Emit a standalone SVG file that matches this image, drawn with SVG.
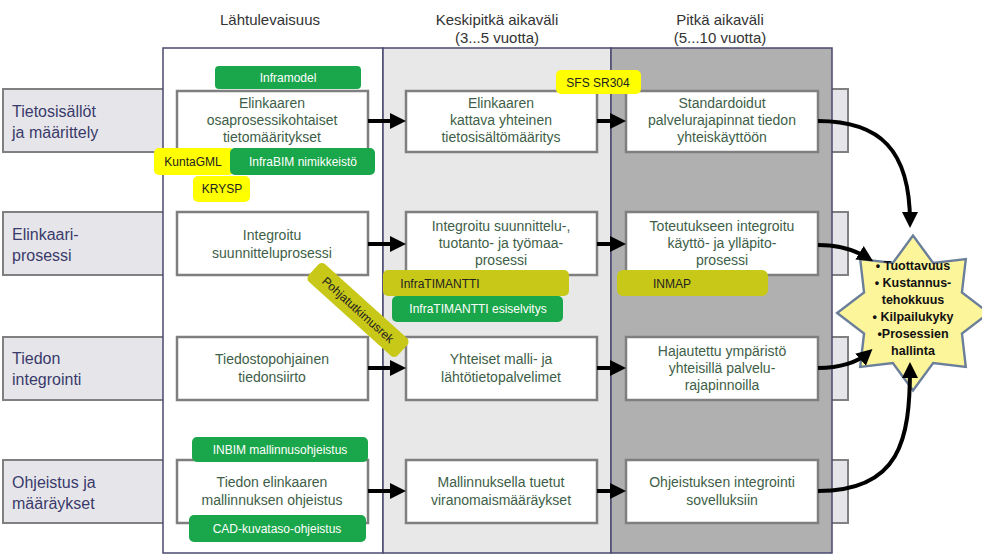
<svg xmlns="http://www.w3.org/2000/svg" width="982" height="559" viewBox="0 0 982 559">
<style>
text{font-family:"Liberation Sans",Arial,sans-serif}
.row{fill:#e6e6ea;stroke:#808080;stroke-width:2}
.box{fill:#fff;stroke:#7f7f7f;stroke-width:2.5}
.bt{font-size:14px;fill:#3e5e48;text-anchor:middle}
.rt{font-size:16px;fill:#3a3a6a}
.hd{font-size:15px;fill:#333;text-anchor:middle}
.g{fill:#1aa64a}
.gt{font-size:12px;fill:#fff;text-anchor:middle}
.y{fill:#ffff00}
.o{fill:#c8c818}
.yt{font-size:12px;fill:#222;text-anchor:middle}
.ar{stroke:#000;stroke-width:4;fill:none;marker-end:url(#ah)}
</style>
<defs><marker id="ah" markerWidth="4" markerHeight="4" refX="2.5" refY="2" orient="auto"><path d="M0,0L4,2L0,4z" fill="#000"/></marker></defs>
<g id="rows">
<rect class="row" x="3" y="89" width="845" height="63"/>
<rect class="row" x="3" y="212" width="845" height="63"/>
<rect class="row" x="3" y="337" width="845" height="63"/>
<rect class="row" x="3" y="460" width="845" height="63"/>
<text class="rt" x="12" y="117">Tietosisällöt</text><text class="rt" x="12" y="138">ja määrittely</text>
<text class="rt" x="12" y="240">Elinkaari-</text><text class="rt" x="12" y="261">prosessi</text>
<text class="rt" x="12" y="364">Tiedon</text><text class="rt" x="12" y="385">integrointi</text>
<text class="rt" x="12" y="488">Ohjeistus ja</text><text class="rt" x="12" y="509">määräykset</text>
</g>
<g id="columns">
<rect x="163" y="48" width="220" height="505" fill="#fff" stroke="#4a4a70" stroke-width="1.5"/>
<rect x="383" y="48" width="228" height="505" fill="#e8e8e8" stroke="#4a4a70" stroke-width="1.5"/>
<rect x="611" y="48" width="221" height="505" fill="#b0b0b0" stroke="#4a4a70" stroke-width="1.5"/>
<text class="hd" x="270" y="25">Lähtulevaisuus</text>
<text class="hd" x="497" y="25">Keskipitkä aikaväli</text><text class="hd" x="497" y="43">(3...5 vuotta)</text>
<text class="hd" x="720" y="25">Pitkä aikaväli</text><text class="hd" x="720" y="43">(5...10 vuotta)</text>
</g>
<g id="nodes">
<g id="n11"><rect class="box" x="177" y="91" width="191" height="61"/><text class="bt" x="272" y="108">Elinkaaren</text><text class="bt" x="272" y="125">osaprosessikohtaiset</text><text class="bt" x="272" y="142">tietomääritykset</text></g>
<g id="n12"><rect class="box" x="406" y="91" width="191" height="61"/><text class="bt" x="501" y="108">Elinkaaren</text><text class="bt" x="501" y="125">kattava yhteinen</text><text class="bt" x="501" y="142">tietosisältömääritys</text></g>
<g id="n13"><rect class="box" x="626" y="91" width="192" height="61"/><text class="bt" x="722" y="108">Standardoidut</text><text class="bt" x="722" y="125">palvelurajapinnat tiedon</text><text class="bt" x="722" y="142">yhteiskäyttöön</text></g>
<g id="n21"><rect class="box" x="177" y="212" width="191" height="63"/><text class="bt" x="272" y="240">Integroitu</text><text class="bt" x="272" y="258">suunnitteluprosessi</text></g>
<g id="n22"><rect class="box" x="406" y="212" width="191" height="63"/><text class="bt" x="501" y="231">Integroitu suunnittelu-,</text><text class="bt" x="501" y="248">tuotanto- ja työmaa-</text><text class="bt" x="501" y="265">prosessi</text></g>
<g id="n23"><rect class="box" x="626" y="212" width="192" height="63"/><text class="bt" x="722" y="231">Toteutukseen integroitu</text><text class="bt" x="722" y="248">käyttö- ja ylläpito-</text><text class="bt" x="722" y="265">prosessi</text></g>
<g id="n31"><rect class="box" x="177" y="337" width="191" height="63"/><text class="bt" x="272" y="364">Tiedostopohjainen</text><text class="bt" x="272" y="382">tiedonsiirto</text></g>
<g id="n32"><rect class="box" x="406" y="337" width="191" height="63"/><text class="bt" x="501" y="364">Yhteiset malli- ja</text><text class="bt" x="501" y="382">lähtötietopalvelimet</text></g>
<g id="n33"><rect class="box" x="626" y="337" width="192" height="63"/><text class="bt" x="722" y="356">Hajautettu ympäristö</text><text class="bt" x="722" y="373">yhteisillä palvelu-</text><text class="bt" x="722" y="390">rajapinnoilla</text></g>
<g id="n41"><rect class="box" x="177" y="460" width="191" height="63"/><text class="bt" x="272" y="487">Tiedon elinkaaren</text><text class="bt" x="272" y="505">mallinnuksen ohjeistus</text></g>
<g id="n42"><rect class="box" x="406" y="460" width="191" height="63"/><text class="bt" x="501" y="487">Mallinnuksella tuetut</text><text class="bt" x="501" y="505">viranomaismääräykset</text></g>
<g id="n43"><rect class="box" x="626" y="460" width="192" height="63"/><text class="bt" x="722" y="487">Ohjeistuksen integrointi</text><text class="bt" x="722" y="505">sovelluksiin</text></g>
<g id="star"><polygon points="913,234 934,262 968,258 964,292 992,313 964,334 968,368 934,364 913,392 892,364 858,368 862,334 834,313 862,292 858,258 892,262" transform="translate(913 313) scale(0.96 0.98) translate(-913 -313)" fill="#fdf59a" stroke="#6b7f9a" stroke-width="2.5"/>
<g font-size="12.5" font-weight="bold" fill="#111" text-anchor="middle"><text x="913" y="270">• Tuottavuus</text><text x="913" y="287">• Kustannus-</text><text x="913" y="304">tehokkuus</text><text x="913" y="321">• Kilpailukyky</text><text x="913" y="338">•Prosessien</text><text x="913" y="355">hallinta</text></g></g>
</g>
<g id="tags">
<rect class="g" x="215" y="66" width="146" height="23" rx="4"/><text class="gt" x="288" y="82">Inframodel</text>
<rect class="y" x="154" y="148" width="80" height="27" rx="5"/><text class="yt" x="193" y="166">KuntaGML</text>
<rect class="g" x="230" y="148" width="145" height="27" rx="5"/><text class="gt" x="303" y="166">InfraBIM nimikkeistö</text>
<rect class="y" x="193" y="176" width="57" height="26" rx="5"/><text class="yt" x="222" y="193">KRYSP</text>
<rect class="y" x="556" y="70" width="85" height="24" rx="5"/><text class="yt" x="598" y="87">SFS SR304</text>
<rect class="o" x="383" y="270" width="186" height="26" rx="5"/><text class="yt" x="440" y="288">InfraTIMANTTI</text>
<rect class="g" x="392" y="296" width="171" height="26" rx="5"/><text class="gt" x="478" y="313">InfraTIMANTTI  esiselvitys</text>
<rect class="o" x="617" y="270" width="151" height="26" rx="6"/><text class="yt" x="672" y="288">INMAP</text>
<g transform="translate(358 310) rotate(42)"><rect class="o" x="-60" y="-12" width="120" height="24" rx="5"/><text class="yt" x="0" y="4">Pohjatutkimusrek</text></g>
<rect class="g" x="192" y="437" width="176" height="25" rx="5"/><text class="gt" x="280" y="454">INBIM mallinnusohjeistus</text>
<rect class="g" x="189" y="515" width="177" height="27" rx="5"/><text class="gt" x="277" y="533">CAD-kuvataso-ohjeistus</text>
</g>
<g id="connectors">
<line class="ar" x1="368" y1="121" x2="400" y2="121"/>
<line class="ar" x1="597" y1="121" x2="620" y2="121"/>
<line class="ar" x1="368" y1="244" x2="400" y2="244"/>
<line class="ar" x1="597" y1="244" x2="620" y2="244"/>
<line class="ar" x1="368" y1="368" x2="400" y2="368"/>
<line class="ar" x1="597" y1="368" x2="620" y2="368"/>
<line class="ar" x1="368" y1="491" x2="400" y2="491"/>
<line class="ar" x1="597" y1="491" x2="620" y2="491"/>
<path class="ar" d="M818,121 C880,121 910,150 910,222"/>
<path class="ar" d="M818,245 C840,245 855,250 868,258"/>
<path class="ar" d="M818,368 C840,368 858,362 868,353"/>
<path class="ar" d="M818,491 C900,491 910,440 910,368"/>
</g>
</svg>
